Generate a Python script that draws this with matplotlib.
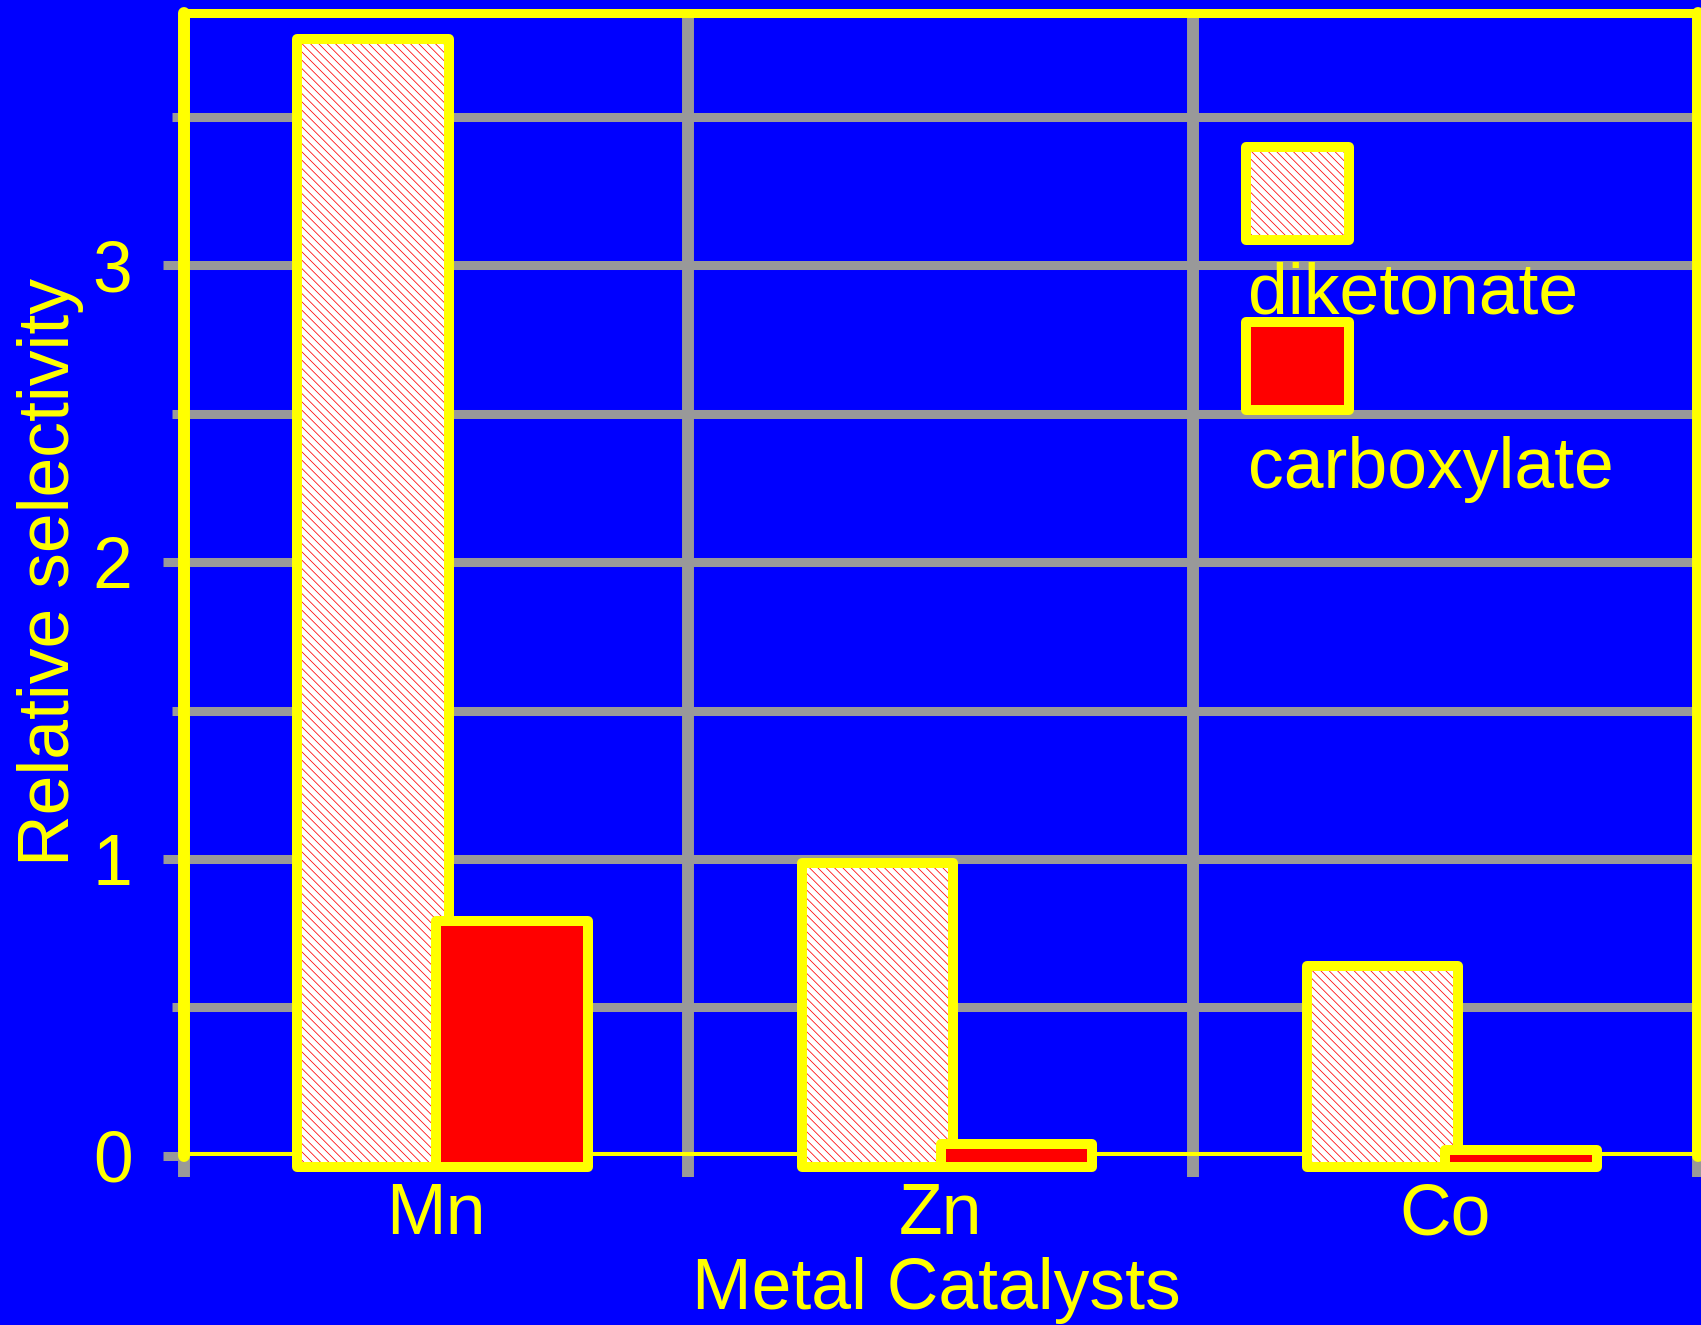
import numpy as np
import matplotlib.pyplot as plt
from matplotlib.patches import Rectangle

plt.rcParams['font.family'] = ['Liberation Sans', 'DejaVu Sans']
plt.rcParams['hatch.linewidth'] = 0.55

# ---------------- data ----------------
categories = ['Mn', 'Zn', 'Co']
diketonate = [3.76, 0.985, 0.64]
carboxylate = [0.79, 0.04, 0.021]
series_names = ['diketonate', 'carboxylate']
yticks_major = [0, 1, 2, 3]

# ---------------- style ----------------
BLUE = '#0000FF'
YELLOW = '#FFFF00'
GRAY = '#999999'
RED = '#FF0000'
HATCH = '\\\\\\\\'
BASE = -0.036      # bars start a little under the zero line
EDGE = 7.2
FS = 51.5

fig = plt.figure(figsize=(17.01, 13.25), dpi=100, facecolor=BLUE)
ax = fig.add_axes([0.1081, 0.1276, 0.8899, 0.8628])
ax.set_facecolor(BLUE)
ax.set_axisbelow(True)

x = np.arange(1, len(categories) + 1)
dk = np.array(diketonate)
cb = np.array(carboxylate)

# diketonate: hatched fill + yellow outline
ax.bar(x - 0.125, dk - BASE, width=0.3, bottom=BASE, color='white',
       edgecolor=RED, hatch=HATCH, linewidth=0, zorder=1, clip_on=False)
ax.bar(x - 0.125, dk - BASE, width=0.3, bottom=BASE, fill=False,
       edgecolor=YELLOW, linewidth=EDGE, joinstyle='round', zorder=1.1,
       clip_on=False)
# carboxylate
ax.bar(x + 0.15, cb - BASE, width=0.3, bottom=BASE, color=RED,
       edgecolor=YELLOW, linewidth=EDGE, joinstyle='round', zorder=1.2,
       clip_on=False)

ax.axhline(0, color=YELLOW, lw=5.8, zorder=0.8)

# axes frame
ax.spines['bottom'].set_visible(False)
for side, lw in [('left', 8.6), ('top', 6.5), ('right', 8.6)]:
    ax.spines[side].set_color(YELLOW)
    ax.spines[side].set_linewidth(lw)
    ax.spines[side].set_capstyle('round')

ax.set_xlim(0.5, len(categories) + 0.5)
ax.set_ylim(0, 3.85)

# y ticks / grid
ax.set_yticks(yticks_major)
ax.set_yticks(np.arange(0.5, 3.6, 1.0), minor=True)
ax.tick_params(axis='y', which='major', length=15, width=6.5, color=GRAY,
               labelcolor=YELLOW, labelsize=FS, pad=22)
ax.tick_params(axis='y', which='minor', length=8.6, width=6.5, color=GRAY)
ax.yaxis.grid(True, which='both', color=GRAY, lw=6.5)

# x ticks: gridlines at group boundaries, labels at group centres
bounds = np.arange(len(categories) + 1) + 0.5
ax.set_xticks(bounds)
ax.set_xticks(x, labels=categories, minor=True)
ax.tick_params(axis='x', which='major', length=15, width=8.6, color=GRAY,
               labelbottom=False)
ax.tick_params(axis='x', which='minor', length=0, labelcolor=YELLOW,
               labelsize=FS, pad=19)
ax.xaxis.grid(True, which='major', color=GRAY, lw=8.6)

ax.set_xlabel('Metal Catalysts', color=YELLOW, fontsize=FS)
ax.xaxis.set_label_coords(0.4968, -0.088)
ax.set_ylabel('Relative selectivity', color=YELLOW, fontsize=FS)
ax.yaxis.set_label_coords(-0.066, 0.511)

# legend (symbol above label)
boxes = [(0.7017, 0.8013, 0.0677, 0.0813), (0.7017, 0.6523, 0.0677, 0.0772)]
text_y = [0.7371, 0.5841]
for i, name in enumerate(series_names):
    bx, by, bw, bh = boxes[i]
    if i == 0:
        ax.add_patch(Rectangle((bx, by), bw, bh, transform=ax.transAxes,
                               facecolor='white', edgecolor=RED, hatch=HATCH,
                               linewidth=0, zorder=3))
        ax.add_patch(Rectangle((bx, by), bw, bh, transform=ax.transAxes,
                               fill=False, edgecolor=YELLOW, linewidth=EDGE,
                               joinstyle='round', zorder=3.1))
    else:
        ax.add_patch(Rectangle((bx, by), bw, bh, transform=ax.transAxes,
                               facecolor=RED, edgecolor=YELLOW, linewidth=EDGE,
                               joinstyle='round', zorder=3.1))
    ax.text(0.7032, text_y[i], name, transform=ax.transAxes, color=YELLOW,
            fontsize=FS, va='baseline', ha='left', zorder=4)

fig.savefig('out.png', dpi=100, facecolor=BLUE)
